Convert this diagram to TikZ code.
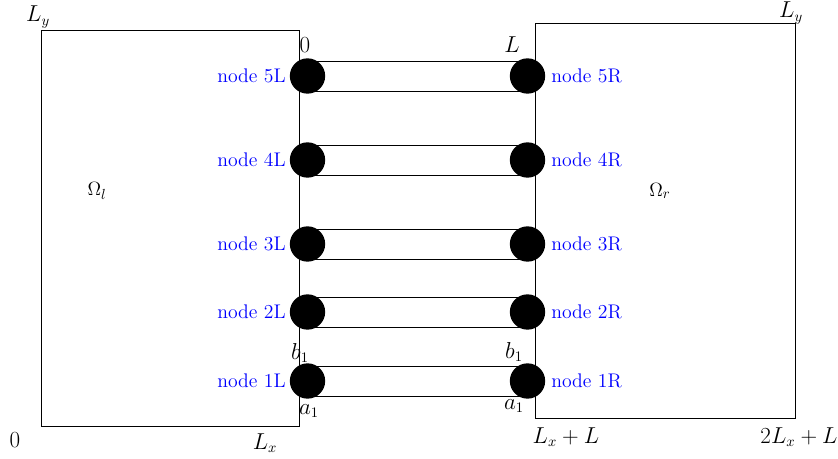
\documentclass[tikz,border=0pt]{standalone}
\begin{document}
\begin{tikzpicture}[x=0.75pt,y=-0.75pt,
  dom/.style={draw=black,line width=0.65pt},
  chan/.style={draw=black,line width=0.65pt},
  ball/.style={circle,fill=black,minimum size=26.5pt,inner sep=0pt},
  nlab/.style={text=blue,font=\fontsize{14.8}{17}\selectfont,inner sep=0pt},
  mlab/.style={font=\fontsize{16}{18}\selectfont,inner sep=0pt},
  olab/.style={font=\fontsize{15}{17}\selectfont,inner sep=0pt}]
\useasboundingbox (0,0) rectangle (838,459);
% domains
\draw[dom] (41,30) rectangle (299,426);
\draw[dom] (535,23) rectangle (795,418);
% channels and balls
\foreach \i/\yy in {5/76,4/160,3/244,2/312,1/381}{
  \coordinate (cl\i) at (307.5,\yy);
  \coordinate (cr\i) at (527.5,\yy);
  \draw[chan] ([yshift=-15*0.75pt]cl\i) -- ([yshift=-15*0.75pt]cr\i);
  \draw[chan] ([yshift=15*0.75pt]cl\i) -- ([yshift=15*0.75pt]cr\i);
  \node[ball] (bl\i) at (cl\i) {};
  \node[ball] (br\i) at (cr\i) {};
  \node[nlab,anchor=east] (tl\i) at (286,\yy) {node \i L};
  \node[nlab,anchor=west] (tr\i) at (551,\yy) {node \i R};
}
% labels
\node[mlab] (ly1) at (38,17) {$L_y$};
\node[mlab] (ly2) at (791,13) {$L_y$};
\node[mlab] (z1) at (305,45) {$0$};
\node[mlab] (lL) at (512,45) {$L$};
\node[mlab] (b1l) at (300,353) {$b_1$};
\node[mlab] (b1r) at (514,352) {$b_1$};
\node[mlab] (a1l) at (309,411) {$a_1$};
\node[mlab] (a1r) at (514,406) {$a_1$};
\node[mlab] (z0) at (15,440) {$0$};
\node[mlab] (lx) at (265,443) {$L_x$};
\node[mlab] (lxl) at (566,437) {$L_x+L$};
\node[mlab] (lx2) at (799,437) {$2L_x+L$};
\node[olab] (ol) at (97,191) {$\Omega_l$};
\node[olab] (or) at (660,191) {$\Omega_r$};
\end{tikzpicture}
\end{document}
